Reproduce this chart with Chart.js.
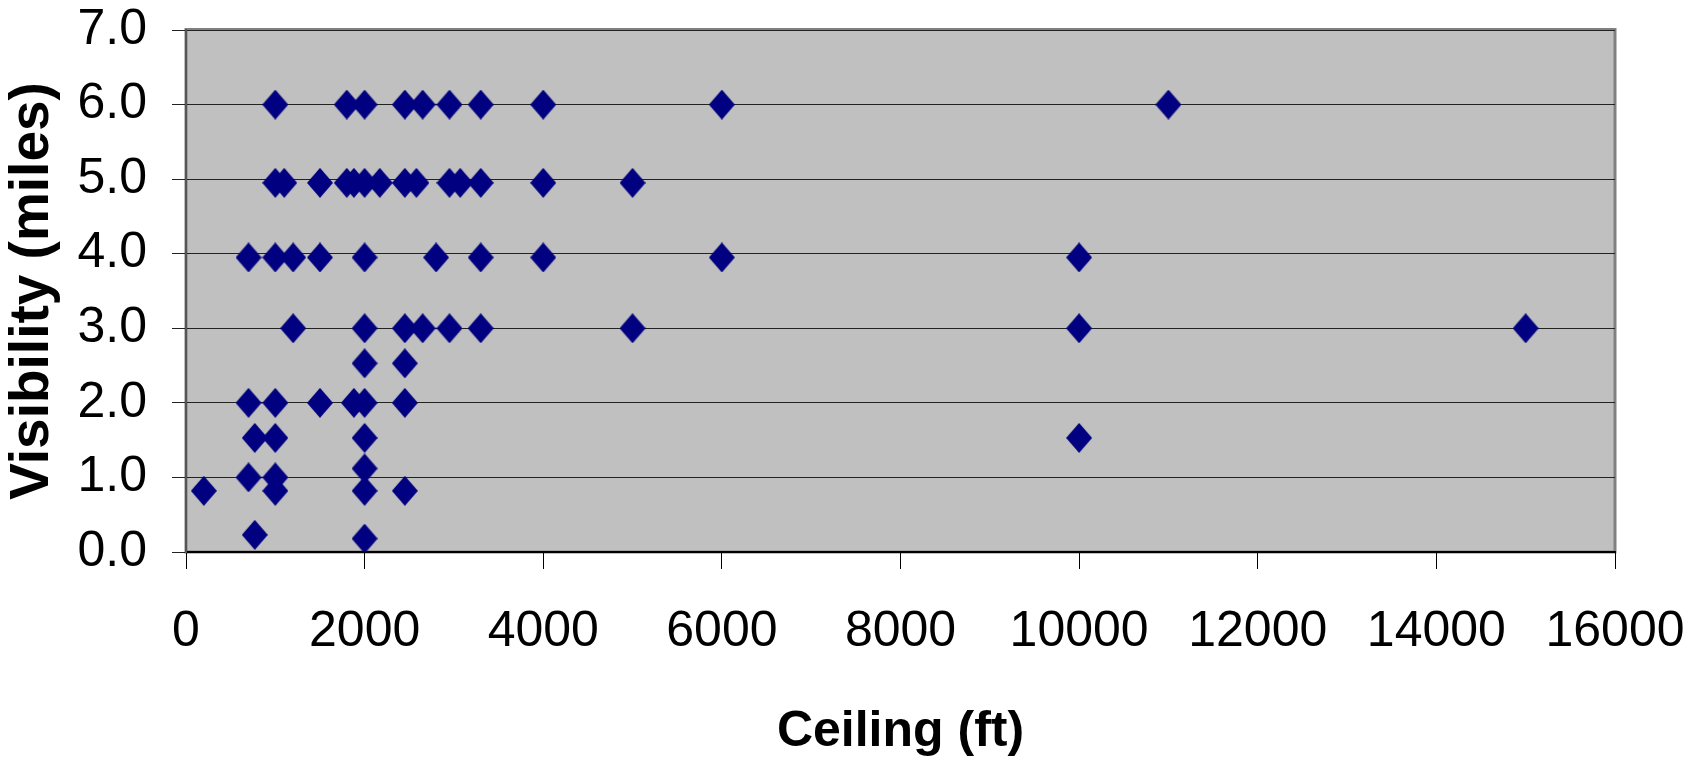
<!DOCTYPE html>
<html>
<head>
<meta charset="utf-8">
<script src="https://cdn.jsdelivr.net/npm/chart.js@4/dist/chart.umd.min.js"></script>
<style>
  html, body { margin: 0; padding: 0; background: #ffffff; }
  #c { display: block; }
</style>
</head>
<body>
<canvas id="c" width="1686" height="769"></canvas>
<script>
// ---- Data ----
const ceilingFt = [
  1000, 1800, 2000, 2450, 2650, 2950, 3300, 4000, 6000, 11000,
  1000, 1100, 1500, 1800, 1880, 2000, 2170, 2450, 2580, 2950, 3070, 3300, 4000, 5000,
  700, 1000, 1200, 1500, 2000, 2800, 3300, 4000, 6000, 10000,
  1200, 2000, 2450, 2650, 2950, 3300, 5000, 10000, 15000,
  2000, 2450,
  700, 1000, 1500, 1880, 2000, 2450,
  770, 1000, 2000, 10000,
  2000,
  700, 1000,
  200, 1000, 2000, 2450,
  770,
  2000
];
const visibilityMiles = [
  6.0, 6.0, 6.0, 6.0, 6.0, 6.0, 6.0, 6.0, 6.0, 6.0,
  4.95, 4.95, 4.95, 4.95, 4.95, 4.95, 4.95, 4.95, 4.95, 4.95, 4.95, 4.95, 4.95, 4.95,
  3.95, 3.95, 3.95, 3.95, 3.95, 3.95, 3.95, 3.95, 3.95, 3.95,
  3.0, 3.0, 3.0, 3.0, 3.0, 3.0, 3.0, 3.0, 3.0,
  2.53, 2.53,
  2.0, 2.0, 2.0, 2.0, 2.0, 2.0,
  1.53, 1.53, 1.53, 1.53,
  1.12,
  1.0, 1.0,
  0.82, 0.82, 0.82, 0.82,
  0.23,
  0.18
];
const xTickLabels = ['0', '2000', '4000', '6000', '8000', '10000', '12000', '14000', '16000'];
const yTickLabels = ['0.0', '1.0', '2.0', '3.0', '4.0', '5.0', '6.0', '7.0'];
const xTitle = 'Ceiling (ft)';
const yTitle = 'Visibility (miles)';

// ---- Marker: navy diamond (slightly taller than wide) ----
function makeDiamond(w, h, color) {
  const cv = document.createElement('canvas');
  cv.width = w; cv.height = h;
  const g = cv.getContext('2d');
  g.fillStyle = color;
  g.beginPath();
  g.moveTo(w / 2, 0);
  g.lineTo(w, h / 2);
  g.lineTo(w / 2, h);
  g.lineTo(0, h / 2);
  g.closePath();
  g.fill();
  return cv;
}
const diamond = makeDiamond(26, 30, '#000080');

const points = ceilingFt.map((x, i) => ({ x: x, y: visibilityMiles[i] }));

const plotBg = {
  id: 'plotBg',
  beforeDraw(chart) {
    const { ctx, chartArea: a } = chart;
    ctx.save();
    ctx.fillStyle = '#C0C0C0';
    ctx.fillRect(a.left, a.top, a.right - a.left, a.bottom - a.top);
    ctx.strokeStyle = '#808080';
    ctx.lineWidth = 3;
    ctx.strokeRect(a.left, a.top - 0.5, a.right - a.left, a.bottom - a.top + 0.5);
    ctx.restore();
  }
};

const FONT = '"Liberation Sans", Arial, Helvetica, sans-serif';

new Chart(document.getElementById('c'), {
  type: 'scatter',
  data: {
    datasets: [{
      data: points,
      pointStyle: diamond,
      pointRadius: 13,
      pointHoverRadius: 13,
      backgroundColor: '#000080',
      borderColor: '#000080',
      showLine: false
    }]
  },
  options: {
    responsive: false,
    devicePixelRatio: 1,
    animation: false,
    events: [],
    layout: { padding: { top: 30, right: 71, left: 0, bottom: 0 } },
    plugins: {
      legend: { display: false },
      tooltip: { enabled: false },
      title: { display: false }
    },
    scales: {
      x: {
        type: 'linear',
        position: 'bottom',
        min: 0,
        max: 16000,
        afterBuildTicks(scale) {
          scale.ticks = xTickLabels.map(t => ({ value: Number(t) }));
        },
        afterFit(scale) {
          scale.height = 217;
          scale.paddingLeft = 0;
          scale.paddingRight = 0;
        },
        ticks: {
          autoSkip: false,
          maxRotation: 0,
          padding: 33,
          color: '#000000',
          font: { family: FONT, size: 50, lineHeight: 1.2 },
          callback: (v, i) => xTickLabels[i]
        },
        grid: {
          drawOnChartArea: false,
          drawTicks: true,
          tickLength: 17,
          tickColor: '#000000',
          tickWidth: 1
        },
        border: { display: true, color: '#000000', width: 2 },
        title: {
          display: true,
          text: xTitle,
          color: '#000000',
          font: { family: FONT, size: 50, weight: 'bold', lineHeight: 1.2 },
          padding: { top: 0, bottom: 7 }
        }
      },
      y: {
        type: 'linear',
        min: 0,
        max: 7,
        afterBuildTicks(scale) {
          scale.ticks = yTickLabels.map(t => ({ value: Number(t) }));
        },
        afterFit(scale) {
          scale.width = 186;
          scale.paddingTop = 0;
          scale.paddingBottom = 0;
        },
        ticks: {
          autoSkip: false,
          padding: 25,
          color: '#000000',
          font: { family: FONT, size: 50, lineHeight: 1.2 },
          callback: (v, i) => yTickLabels[i]
        },
        grid: {
          color: '#222222',
          lineWidth: 1,
          drawTicks: true,
          tickLength: 14,
          tickColor: '#222222'
        },
        border: { display: true, color: '#555555', width: 2 },
        title: {
          display: true,
          text: yTitle,
          color: '#000000',
          font: { family: FONT, size: 55, weight: 'bold', lineHeight: 1.2 },
          padding: { top: 0, bottom: 0 }
        }
      }
    }
  },
  plugins: [plotBg]
});
</script>
</body>
</html>
